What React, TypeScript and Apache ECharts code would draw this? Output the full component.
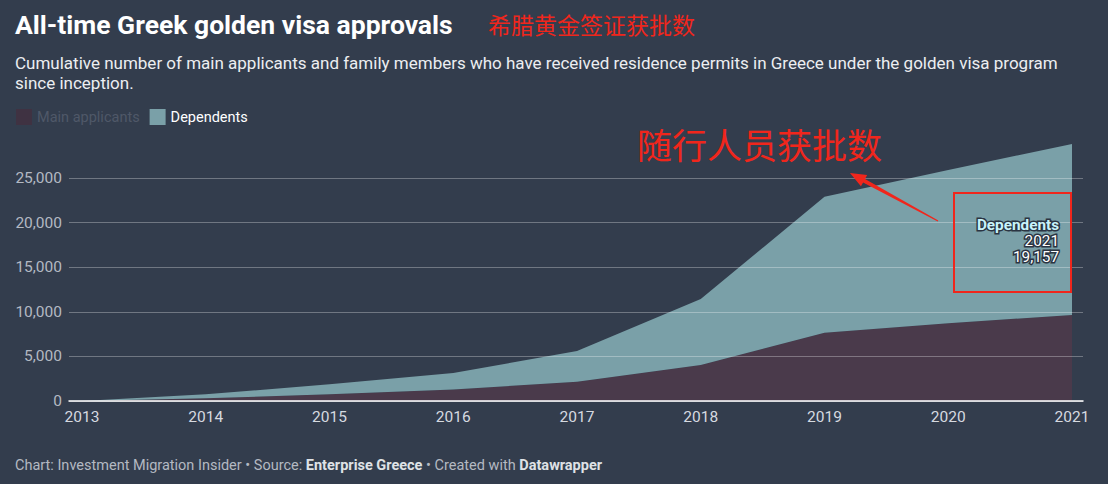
import React, { useEffect, useRef } from "react";
import * as echarts from "echarts";

const years = ["2013", "2014", "2015", "2016", "2017", "2018", "2019", "2020", "2021"];
const mainApplicants = [0, 300, 750, 1290, 2160, 4040, 7660, 8710, 9650];
const dependents = [0, 450, 1120, 1850, 3440, 7390, 15240, 17190, 19157];
const yTicks = [0, 5000, 10000, 15000, 20000, 25000];

const BG = "#333d4d";
const DEP = "#7aa0a8";
const MAIN = "#4a3a4b";
const RED = "#f0261c";
const FONT = "Roboto, 'Noto Sans', sans-serif";
const CJK = "'Noto Sans CJK SC', sans-serif";

const fmt = (v: number) => v.toLocaleString("en-US");

export default function App() {
  const ref = useRef<HTMLDivElement>(null);
  useEffect(() => {
    document.body.style.margin = "0";
    document.body.style.background = BG;
    const chart = echarts.init(ref.current!, null, { renderer: "svg" });
    const last = years.length - 1;
    const topLast = mainApplicants[last] + dependents[last];

    const tail = [938, 221];
    const tip = [850, 173];
    const dx = tip[0] - tail[0], dy = tip[1] - tail[1];
    const len = Math.hypot(dx, dy);
    const u = [dx / len, dy / len];
    const p = [-u[1], u[0]];
    const hb = [tip[0] - 16 * u[0], tip[1] - 16 * u[1]];
    const pt = (c: number[], s: number) => [c[0] + s * p[0], c[1] + s * p[1]];
    const arrowPts = [pt(tail, 0.6), pt(hb, 2), pt(hb, 6.5), tip, pt(hb, -6.5), pt(hb, -2), pt(tail, -0.6)];

    const tipText = (text: string, y: number, fill: string, bold: boolean) => ({
      type: "text",
      x: 1059,
      y,
      z: 20,
      style: {
        text,
        align: "right",
        verticalAlign: "middle",
        fill,
        fontSize: 15.3,
        fontWeight: bold ? "bold" : "normal",
        fontFamily: FONT,
        stroke: "#2b3442",
        lineWidth: 3,
      },
    });

    chart.setOption({
      animation: false,
      backgroundColor: BG,
      textStyle: { fontFamily: FONT },
      legend: {
        left: 16,
        top: 109,
        padding: 0,
        itemWidth: 16,
        itemHeight: 16,
        itemGap: 10,
        icon: "rect",
        selectedMode: false,
        textStyle: { fontSize: 14.5, fontFamily: FONT },
        data: [
          { name: "Main applicants", itemStyle: { color: "#3f3242" }, textStyle: { color: "#4f5868" } },
          { name: "Dependents", itemStyle: { color: DEP }, textStyle: { color: "#ffffff" } },
        ],
      },
      grid: [
        { left: 69, right: 25, top: 178, bottom: 83 },
        { left: 82, right: 36, top: 178, bottom: 83 },
      ],
      xAxis: [
        {
          gridIndex: 0,
          type: "value",
          min: 0,
          max: 1,
          axisLabel: { show: false },
          axisTick: { show: false },
          splitLine: { show: false },
          axisLine: { show: true, lineStyle: { color: "#ffffff", width: 1.5 } },
          z: 6,
        },
        {
          gridIndex: 1,
          type: "category",
          data: years,
          boundaryGap: false,
          axisLine: { show: false },
          axisTick: { show: false },
          axisLabel: { color: "#d6dae0", fontSize: 15.5, margin: 8, fontFamily: FONT },
        },
      ],
      yAxis: [
        {
          gridIndex: 0,
          type: "value",
          min: 0,
          max: yTicks[yTicks.length - 1],
          interval: 5000,
          z: 5,
          axisLine: { show: false },
          axisTick: { show: false },
          axisLabel: { color: "#b3b9c3", fontSize: 15.5, margin: 7, formatter: (v: number) => fmt(v), fontFamily: FONT },
          splitLine: { show: true, lineStyle: { color: "rgba(255,255,255,0.3)", width: 1 } },
        },
        {
          gridIndex: 1,
          type: "value",
          min: 0,
          max: yTicks[yTicks.length - 1],
          show: false,
          splitLine: { show: false },
        },
      ],
      series: [
        {
          name: "Main applicants",
          type: "line",
          xAxisIndex: 1,
          yAxisIndex: 1,
          stack: "total",
          data: mainApplicants,
          symbol: "none",
          clip: false,
          lineStyle: { width: 0 },
          itemStyle: { color: MAIN },
          areaStyle: { color: MAIN, opacity: 1 },
        },
        {
          name: "Dependents",
          type: "line",
          xAxisIndex: 1,
          yAxisIndex: 1,
          stack: "total",
          data: dependents,
          symbol: "none",
          clip: false,
          lineStyle: { width: 0 },
          itemStyle: { color: DEP },
          areaStyle: { color: DEP, opacity: 1 },
          markLine: {
            silent: true,
            symbol: "none",
            label: { show: false },
            lineStyle: { color: "rgba(255,255,255,0.35)", width: 2, type: "solid" },
            data: [[{ coord: [years[last], mainApplicants[last]] }, { coord: [years[last], topLast] }]],
          },
        },
      ],
      graphic: [
        {
          type: "text",
          left: 15,
          top: 11,
          style: { text: "All-time Greek golden visa approvals", fill: "#ffffff", fontSize: 26.5, fontWeight: "bold", fontFamily: FONT },
        },
        {
          type: "text",
          left: 488,
          top: 12,
          style: { text: "希腊黄金签证获批数", fill: RED, fontSize: 23, fontFamily: CJK },
        },
        {
          type: "text",
          left: 15,
          top: 53,
          style: {
            text: "Cumulative number of main applicants and family members who have received residence permits in Greece under the golden visa program\nsince inception.",
            fill: "#eceef1",
            fontSize: 17,
            lineHeight: 20,
            fontFamily: FONT,
          },
        },
        {
          type: "text",
          left: 637,
          top: 126,
          style: { text: "随行人员获批数", fill: RED, fontSize: 35, fontFamily: CJK },
        },
        { type: "polygon", shape: { points: arrowPts }, style: { fill: RED }, z: 20 },
        {
          type: "rect",
          shape: { x: 954, y: 193, width: 117, height: 99 },
          style: { fill: "none", stroke: RED, lineWidth: 2 },
          z: 20,
        },
        tipText("Dependents", 225, "#c9f3fb", true),
        tipText(years[last], 241, "#ffffff", false),
        tipText(fmt(dependents[last]), 257, "#ffffff", false),
        {
          type: "text",
          left: 15,
          top: 458,
          style: {
            text: "{n|Chart: Investment Migration Insider • Source: }{b|Enterprise Greece}{n| • Created with }{b|Datawrapper}",
            rich: {
              n: { fill: "#b4b9c2", fontSize: 14.5, fontFamily: FONT },
              b: { fill: "#dfe2e6", fontSize: 14.5, fontWeight: "bold", fontFamily: FONT },
            },
          },
        },
      ],
    });
    return () => chart.dispose();
  }, []);
  return <div ref={ref} style={{ width: 1108, height: 484 }} />;
}
